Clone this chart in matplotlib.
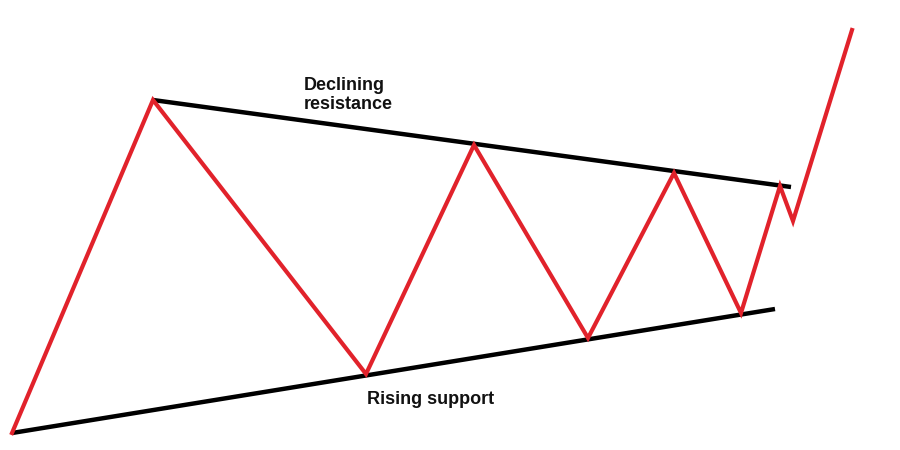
import matplotlib.pyplot as plt

# price path (pixel coords, y grows downward)
price_x = [12, 153, 366, 474, 588, 674, 741, 780, 793, 852]
price_y = [433, 100, 374, 145, 338, 173, 313, 186, 221, 30]

# trend lines
resist_x = [153, 791]
resist_y = [100, 187]
support_x = [12, 775]
support_y = [433, 309]

fig = plt.figure(figsize=(9, 4.5), dpi=100)
ax = fig.add_axes([0, 0, 1, 1])
ax.set_xlim(0, 900)
ax.set_ylim(450, 0)
ax.axis('off')

ax.plot(resist_x, resist_y, color='black', lw=3.2, solid_capstyle='butt', zorder=2)
ax.plot(support_x, support_y, color='black', lw=3.2, solid_capstyle='butt', zorder=2)
ax.plot(price_x, price_y, color='#e1222b', lw=3.0, solid_joinstyle='miter', zorder=3)

ax.text(304, 95, 'Declining\nresistance', fontsize=13, fontweight='bold',
        family='Liberation Sans', ha='left', va='center', linespacing=1.2, color='#111111')
ax.text(367, 399, 'Rising support', fontsize=13, fontweight='bold',
        family='Liberation Sans', ha='left', va='center', color='#111111')

fig.savefig('out.png', dpi=100)
